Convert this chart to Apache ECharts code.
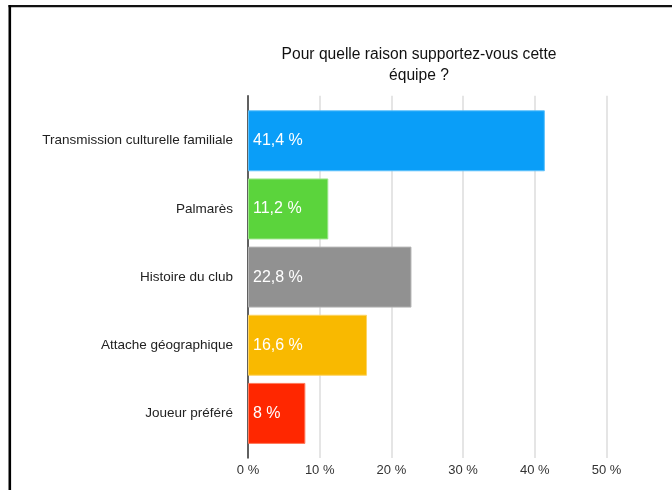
<!DOCTYPE html>
<html>
<head>
<meta charset="utf-8">
<script src="https://cdn.jsdelivr.net/npm/echarts@6/dist/echarts.min.js"></script>
<style>
  html, body { margin: 0; padding: 0; background: #ffffff; }
  #chart { width: 672px; height: 490px; }
</style>
</head>
<body>
<div id="chart"></div>
<script>
  // data
  const categories = [
    'Transmission culturelle familiale',
    'Palmarès',
    'Histoire du club',
    'Attache géographique',
    'Joueur préféré'
  ]
  const values = [41.4, 11.2, 22.8, 16.6, 8]
  const barColors = ['#0a9ef8', '#5bd43c', '#919191', '#f9b900', '#ff2700']
  const barEdges = ['#5cc0fb', '#9be58a', '#b5b5b5', '#fcd466', '#ff7a5c']

  const font = '"Liberation Sans", Arial, Helvetica, sans-serif'

  const chart = echarts.init(document.getElementById('chart'))
  chart.setOption({
    animation: false,
    backgroundColor: '#ffffff',
    title: {
      text: 'Pour quelle raison supportez-vous cette\néquipe ?',
      left: 414,
      top: 39,
      textAlign: 'center',
      textStyle: {
        fontFamily: font,
        fontSize: 15.6,
        fontWeight: 'normal',
        color: '#111111',
        lineHeight: 21
      }
    },
    graphic: [
      // black frame at top and left of the screenshot
      { type: 'rect', shape: { x: 8.5, y: 5, width: 664, height: 2.2 }, style: { fill: '#111111' } },
      { type: 'rect', shape: { x: 8.5, y: 5, width: 2.6, height: 485 }, style: { fill: '#000000' } }
    ],
    grid: [
      // bars
      { left: 248, right: 65.5, top: 106.7, bottom: 42.5 },
      // gridlines, axis line and tick labels (a bit taller than the bars)
      { left: 248, right: 65.5, top: 95.7, bottom: 32 }
    ],
    xAxis: [
      {
        gridIndex: 0,
        type: 'value',
        min: 0,
        max: 50,
        interval: 10,
        axisLabel: { show: false },
        axisLine: { show: false },
        axisTick: { show: false },
        splitLine: { show: false }
      },
      {
        gridIndex: 1,
        type: 'value',
        min: 0,
        max: 50,
        interval: 10,
        axisLabel: {
          margin: 6,
          fontFamily: font,
          fontSize: 13,
          color: '#333333',
          formatter: v => v + ' %'
        },
        axisLine: { show: false },
        axisTick: { show: false },
        splitLine: { show: true, lineStyle: { color: '#dcdcdc', width: 1.5 } }
      }
    ],
    yAxis: [
      {
        gridIndex: 0,
        type: 'category',
        inverse: true,
        data: categories,
        axisLabel: {
          margin: 15,
          fontFamily: font,
          fontSize: 13.5,
          color: '#222222',
          padding: [2, 0, 0, 0]
        },
        axisLine: { show: false },
        axisTick: { show: false }
      },
      {
        gridIndex: 1,
        type: 'value',
        min: 0,
        max: 1,
        axisLabel: { show: false },
        axisTick: { show: false },
        splitLine: { show: false },
        axisLine: { show: true, lineStyle: { color: '#333333', width: 1.5 } }
      }
    ],
    series: [
      {
        type: 'bar',
        xAxisIndex: 0,
        yAxisIndex: 0,
        barWidth: 61,
        data: values.map((v, i) => ({
          value: v,
          itemStyle: { color: barColors[i], borderColor: barEdges[i], borderWidth: 1 }
        })),
        label: {
          show: true,
          position: 'insideLeft',
          distance: 5,
          fontFamily: font,
          fontSize: 16,
          color: '#ffffff',
          formatter: p => String(p.value).replace('.', ',') + ' %'
        }
      }
    ]
  })
</script>
</body>
</html>
